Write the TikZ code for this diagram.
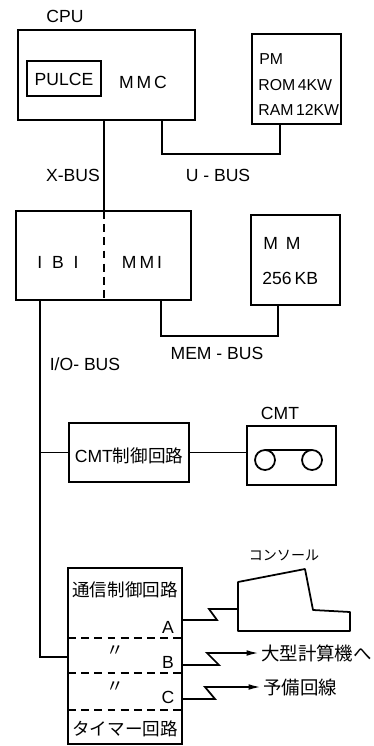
\documentclass[tikz,border=0pt]{standalone}
\usepackage{fontspec}
\setmainfont{Liberation Sans}
\newfontfamily\jp{Noto Sans CJK JP}
\usetikzlibrary{arrows.meta}
\def\pxu{0.02cm}
\tikzset{
  blk/.style={draw, line width=1pt, inner sep=0pt, outer sep=0pt},
  lbl/.style={inner sep=0pt, font=\fontsize{10}{12}\selectfont},
  small/.style={inner sep=0pt, font=\fontsize{9}{11}\selectfont},
  jtxt/.style={inner sep=0pt, font=\fontsize{10}{12}\selectfont\jp},
  wire/.style={line width=1pt},
  sepline/.style={line width=1pt, dash pattern=on 4.5pt off 3pt},
  tip/.style={-{Latex[length=7pt,width=3.2pt]}},
}
\begin{document}
\begin{tikzpicture}[x=0.02cm,y=-0.02cm]
\useasboundingbox (0,0) rectangle (373,746);

% ---- CPU and program memory ----
\node[lbl] (cputxt) at (65,16) {CPU};
\node[blk,minimum width=177*\pxu,minimum height=90*\pxu] (cpu) at (106.5,75) {};
\node[blk,minimum width=74*\pxu,minimum height=35*\pxu] (pulce) at (64,78.5) {};
\node[lbl] (pulcetxt) at (64,79) {PULCE};
\node[lbl] (mmc) at (143,82) {M\,M\,C};
\node[blk,minimum width=89*\pxu,minimum height=90*\pxu] (pm) at (296.5,79) {};
\node[small,anchor=west] (pm1) at (259,59) {PM};
\node[small,anchor=west] (pm2) at (258,85) {ROM\,4KW};
\node[small,anchor=west] (pm3) at (258,110) {RAM\,12KW};

% ---- interface unit and main memory ----
\node[blk,minimum width=175*\pxu,minimum height=89*\pxu] (ifu) at (103.5,255.5) {};
\node[lbl] (ibi) at (58,262) {I\ \ B\ \ I};
\node[lbl] (mmi) at (142,262) {M\,M\,I};
\node[blk,minimum width=89*\pxu,minimum height=90*\pxu] (mm) at (295.5,260) {};
\node[lbl,anchor=west] (mm1) at (263,243) {M\ \,M};
\node[lbl,anchor=west] (mm2) at (262,278) {256\,KB};

% ---- bus labels ----
\node[lbl] (xbus) at (73,175) {X-BUS};
\node[lbl] (ubus) at (218,175) {U - BUS};
\node[lbl] (membus) at (217,353) {MEM - BUS};
\node[lbl] (iobus) at (85,364) {I/O- BUS};

% ---- cassette tape ----
\node[blk,minimum width=120*\pxu,minimum height=59*\pxu] (cmtc) at (129,452.5) {};
\node[lbl] (cmtctxt) at (129,456) {CMT{\jp 制御回路}};
\node[lbl] (cmttxt) at (280,413) {CMT};
\node[blk,minimum width=89*\pxu,minimum height=59*\pxu] (cmt) at (291.5,455.5) {};
\draw[wire] (265,460) circle[radius=10];
\draw[wire] (312,460) circle[radius=10];
\draw[wire] (265,450) -- (312,450);

% ---- communication unit ----
\node[blk,minimum width=114*\pxu,minimum height=176*\pxu] (comm) at (125,656) {};
\draw[sepline] (68,638) -- (182,638);
\draw[sepline] (68,673) -- (182,673);
\draw[sepline] (68,710) -- (182,710);
\node[jtxt] (commtxt) at (125,590) {通信制御回路};
\node[lbl] (pa) at (168,627) {A};
\node[jtxt] (dittob) at (115,651) {〃};
\node[lbl] (pb) at (168,662) {B};
\node[jtxt] (dittoc) at (115,687) {〃};
\node[lbl] (pc) at (168,697) {C};
\node[jtxt] (timer) at (125,729) {タイマー回路};

% ---- console ----
\node[inner sep=0pt,font=\fontsize{8}{10}\selectfont\jp] (contxt) at (284,555) {コンソール};
\draw[wire,line join=round] (238,582) -- (305,569) -- (313,610) -- (350,612)
  -- (350,631) -- (238,631) -- cycle;
\coordinate (con) at (238,609);

% ---- destinations ----
\node[jtxt,anchor=west,font=\fontsize{10.5}{12}\selectfont\jp,inner sep=1pt] (host) at (259,653) {大型計算機へ};
\node[jtxt,anchor=west,font=\fontsize{10.5}{12}\selectfont\jp,inner sep=1pt] (spare) at (261,687) {予備回線};

% ---- buses ----
\coordinate (xb) at (104,0);
\draw[wire] (cpu.south -| xb) -- (ifu.north -| xb);
\draw[sepline] (104,211) -- (104,300);
\coordinate (ubA) at (162,0);
\coordinate (ubB) at (280,154);
\draw[wire] (cpu.south -| ubA) |- (ubB) -- (pm.south -| ubB);
\coordinate (mbA) at (161,0);
\coordinate (mbB) at (278,336);
\draw[wire] (ifu.south -| mbA) |- (mbB) -- (mm.south -| mbB);
\coordinate (iob) at (40,0);
\coordinate (iobEnd) at (40,657);
\draw[wire] (ifu.south -| iob) -- (iobEnd) -- (comm.west |- iobEnd);
\coordinate (cmtTap) at (40,452.5);
\draw[wire] (cmtTap) -- (cmtc.west);
\draw[wire] (cmtc.east) -- (cmt.west |- cmtc.east);

% ---- lines out of the communication unit ----
\coordinate (ya) at (0,620);
\coordinate (yb) at (0,665);
\coordinate (yc) at (0,699);
\draw[wire] (comm.east |- ya) -- (217,620) -- (209,609) -- (con);
\draw[wire,tip] (comm.east |- yb) -- (219,665) -- (207,653) -- (host.west);
\draw[wire,tip] (comm.east |- yc) -- (215,699) -- (205,687) -- (spare.west);
\end{tikzpicture}
\end{document}
